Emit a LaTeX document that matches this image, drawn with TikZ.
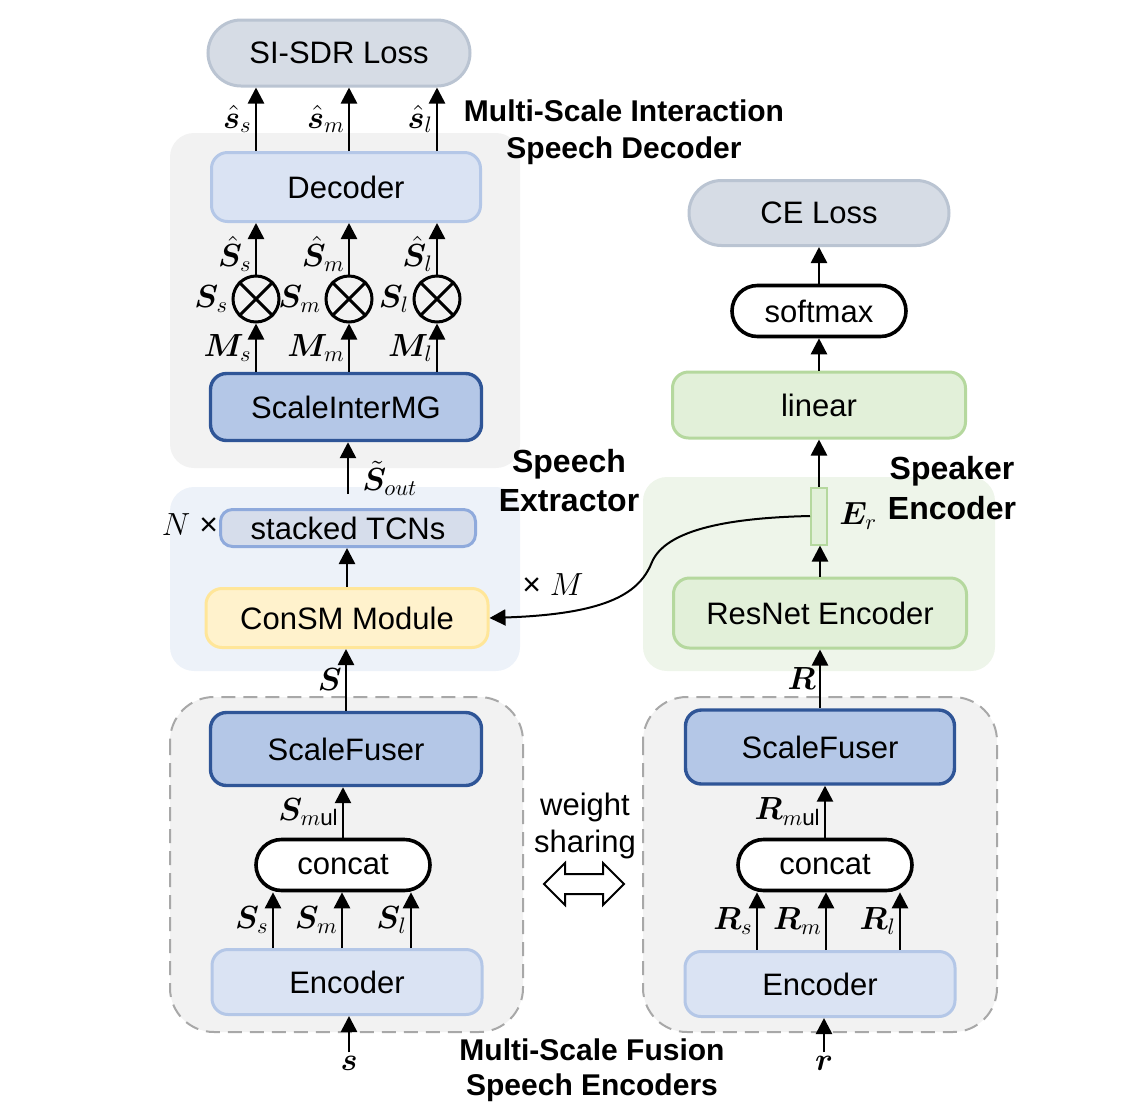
\RequirePackage{fix-cm}
\documentclass[tikz,border=0pt]{standalone}
\usepackage{amsmath}
\usepackage{bm}
\usepackage{fontspec}
\setmainfont{Liberation Sans}
\usetikzlibrary{arrows.meta,shapes.misc,positioning,calc}

\definecolor{lossfill}{HTML}{D6DCE5}
\definecolor{lossedge}{HTML}{BAC4D2}
\definecolor{paleblue}{HTML}{DAE3F3}
\definecolor{paleedge}{HTML}{B4C7E7}
\definecolor{midblue}{HTML}{B4C7E7}
\definecolor{darkedge}{HTML}{2F5597}
\definecolor{tcnfill}{HTML}{D6DDEB}
\definecolor{tcnedge}{HTML}{8FAADC}
\definecolor{consmfill}{HTML}{FFF2CC}
\definecolor{consmedge}{HTML}{FFE699}
\definecolor{greenfill}{HTML}{E2F0D9}
\definecolor{greenedge}{HTML}{B5D89E}
\definecolor{panelgray}{HTML}{F2F2F2}
\definecolor{panelblue}{HTML}{EDF2F9}
\definecolor{panelgreen}{HTML}{EEF5EA}
\definecolor{dashgray}{HTML}{A8A8A8}

\begin{document}
\begin{tikzpicture}[x=0.5pt,y=-0.5pt,
  every node/.style={font=\fontsize{15.5}{18}\selectfont},
  box/.style={draw, rounded corners=8pt, line width=1.5pt, inner sep=0pt},
  pale/.style={box, fill=paleblue, draw=paleedge},
  deep/.style={box, fill=midblue, draw=darkedge, line width=1.7pt},
  tcnbox/.style={box, fill=tcnfill, draw=tcnedge, rounded corners=6pt},
  consmbox/.style={box, fill=consmfill, draw=consmedge},
  greenbox/.style={box, fill=greenfill, draw=greenedge},
  embbox/.style={draw=greenedge, fill=greenfill, line width=1pt, inner sep=0pt},
  pill/.style={rounded rectangle, draw, line width=1.8pt, fill=white, inner sep=0pt},
  losspill/.style={rounded rectangle, fill=lossfill, draw=lossedge, line width=1.5pt, inner sep=0pt},
  mult/.style={circle, draw, line width=1.5pt, minimum size=23pt, inner sep=0pt},
  lbl/.style={inner sep=1.5pt, font=\fontsize{16}{18}\selectfont},
  arr/.style={-{Triangle[length=8pt,width=8pt]}, line width=1.3pt},
  head/.style={font=\fontsize{15}{18.5}\selectfont\bfseries, align=center},
  dashpanel/.style={fill=panelgray, draw=dashgray, line width=1pt, dash pattern=on 7pt off 4pt, rounded corners=22pt}
]
\useasboundingbox (0,0) rectangle (1132,1115);

% panels
\fill[panelgray, rounded corners=12pt] (170,133) rectangle (520,468);
\fill[panelblue, rounded corners=12pt] (170,487) rectangle (520,671);
\fill[panelgreen, rounded corners=12pt] (643,477) rectangle (995,671);
\draw[dashpanel] (170,697) rectangle (523,1032);
\draw[dashpanel] (643,697) rectangle (997,1032);

% speech side
\node[losspill, minimum width=131pt, minimum height=33pt] (sdr) at (339,53) {SI-SDR Loss};
\node[pale, minimum width=134.5pt, minimum height=34.5pt] (dec) at (346,187) {Decoder};
\node[mult] (mulS) at (256,299) {};
\node[mult] (mulM) at (349,299) {};
\node[mult] (mulL) at (437,299) {};
\node[deep, minimum width=135.5pt, minimum height=33.5pt] (mg) at (346,407) {ScaleInterMG};
\node[tcnbox, minimum width=127.5pt, minimum height=18.5pt] (tcn) at (348,528) {stacked TCNs};
\node[lbl] (rep) at (190,525) {$N$ ×};
\node[consmbox, minimum width=141pt, minimum height=29.5pt] (consm) at (347,618) {ConSM Module};
\node[lbl] (repM) at (553,585) {× $M$};
\node[deep, minimum width=135.5pt, minimum height=36.5pt] (fuseL) at (346,749) {ScaleFuser};
\node[pill, minimum width=87pt, minimum height=25.5pt] (catL) at (343,865) {concat};
\node[pale, minimum width=135pt, minimum height=32.5pt] (encL) at (347,982) {Encoder};
\node[lbl] (inS) at (349,1063) {$\bm{s}$};

% speaker side
\node[losspill, minimum width=130pt, minimum height=32.5pt] (ce) at (819,213) {CE Loss};
\node[pill, minimum width=87pt, minimum height=25.5pt] (soft) at (819,311) {softmax};
\node[greenbox, minimum width=146.5pt, minimum height=33pt] (lin) at (819,405) {linear};
\node[embbox, minimum width=8pt, minimum height=28.5pt] (emb) at (819,516) {};
\node[lbl, right=4pt of emb] (embL) {$\bm{E}_r$};
\node[greenbox, minimum width=146.5pt, minimum height=35pt] (res) at (820,613) {ResNet Encoder};
\node[deep, minimum width=134.5pt, minimum height=37pt] (fuseR) at (820,747) {ScaleFuser};
\node[pill, minimum width=87pt, minimum height=25.5pt] (catR) at (825,865) {concat};
\node[pale, minimum width=135pt, minimum height=32.5pt] (encR) at (820,984) {Encoder};
\node[lbl] (inR) at (824,1063) {$\bm{r}$};

% headings
\node[head] (hDec) at (624,132) {Multi-Scale Interaction\\Speech Decoder};
\node[head, font=\fontsize{16}{19.5}\selectfont\bfseries] (hExt) at (569,481) {Speech\\Extractor};
\node[head, font=\fontsize{16}{20}\selectfont\bfseries] (hSpk) at (952,488) {Speaker\\Encoder};
\node[head, font=\fontsize{15}{17.5}\selectfont\bfseries] (hEnc) at (592,1070) {Multi-Scale Fusion\\Speech Encoders};
\node[align=center, font=\fontsize{15.5}{18.5}\selectfont] (share) at (585,826) {weight\\sharing};
\coordinate (ws) at (584,884);
\draw[line width=1pt, fill=white] ($(ws)+(-40,0)$) -- ++(21,-21) -- ++(0,11) -- ++(38,0) -- ++(0,-11)
  -- ++(21,21) -- ++(-21,21) -- ++(0,-11) -- ++(-38,0) -- ++(0,11) -- cycle;

% multiply signs
\foreach \m in {mulS,mulM,mulL}
  \draw[line width=1.5pt] (\m.north west) -- (\m.south east) (\m.north east) -- (\m.south west);
\node[lbl, left=0pt of mulS] (lSs) {$\bm{S}_s$};
\node[lbl, left=0pt of mulM] (lSm) {$\bm{S}_m$};
\node[lbl, left=0pt of mulL] (lSl) {$\bm{S}_l$};

% decoder connectors
\draw[arr] (mulS |- dec.north) -- node[lbl, left] (oS) {$\hat{\bm{s}}_s$} (mulS |- sdr.south);
\draw[arr] (mulM |- dec.north) -- node[lbl, left] (oM) {$\hat{\bm{s}}_m$} (mulM |- sdr.south);
\draw[arr] (mulL |- dec.north) -- node[lbl, left] (oL) {$\hat{\bm{s}}_l$} (mulL |- sdr.south);
\draw[arr] (mulS.north) -- node[lbl, left, pos=0.4] (hS) {$\hat{\bm{S}}_s$} (mulS |- dec.south);
\draw[arr] (mulM.north) -- node[lbl, left, pos=0.4] (hM) {$\hat{\bm{S}}_m$} (mulM |- dec.south);
\draw[arr] (mulL.north) -- node[lbl, left, pos=0.4] (hL) {$\hat{\bm{S}}_l$} (mulL |- dec.south);
\draw[arr] (mulS |- mg.north) -- node[lbl, left] (mS) {$\bm{M}_s$} (mulS.south);
\draw[arr] (mulM |- mg.north) -- node[lbl, left] (mM) {$\bm{M}_m$} (mulM.south);
\draw[arr] (mulL |- mg.north) -- node[lbl, left] (mL) {$\bm{M}_l$} (mulL.south);

% extractor connectors
\draw[arr, shorten <=7pt] (tcn.north) -- node[lbl, right=5pt, pos=0.45] (sOut) {$\tilde{\bm{S}}_{out}$} (tcn.north |- mg.south);
\draw[arr] (consm.north) -- (consm.north |- tcn.south);
\draw[arr] (fuseL.north) -- node[lbl, left] (lS) {$\bm{S}$} (fuseL.north |- consm.south);
\draw[arr, line width=1pt] (emb.west) .. controls (720,518) and (665,532) .. (652,562)
  .. controls (640,592) and (610,614) .. (consm.east);

% speech encoder connectors
\coordinate (cLs) at (273,0);
\coordinate (cLm) at (342,0);
\coordinate (cLl) at (411,0);
\draw[arr] (catL.north) -- node[lbl, left] (lSmul) {$\bm{S}_{m\mathrm{ul}}$} (catL.north |- fuseL.south);
\draw[arr] (cLs |- encL.north) -- node[lbl, left] (eSs) {$\bm{S}_s$} (cLs |- catL.south);
\draw[arr] (cLm |- encL.north) -- node[lbl, left] (eSm) {$\bm{S}_m$} (cLm |- catL.south);
\draw[arr] (cLl |- encL.north) -- node[lbl, left] (eSl) {$\bm{S}_l$} (cLl |- catL.south);
\draw[arr] (inS.north) -- (inS.north |- encL.south);

% speaker connectors
\draw[arr] (lin.north) -- (lin.north |- soft.south);
\draw[arr] (soft.north) -- (soft.north |- ce.south);
\draw[arr] (emb.north) -- (emb.north |- lin.south);
\draw[arr] (res.north) -- (res.north |- emb.south);
\draw[arr] (fuseR.north) -- node[lbl, left] (lR) {$\bm{R}$} (fuseR.north |- res.south);
\coordinate (cRs) at (757,0);
\coordinate (cRm) at (826,0);
\coordinate (cRl) at (900,0);
\draw[arr] (catR.north) -- node[lbl, left] (lRmul) {$\bm{R}_{m\mathrm{ul}}$} (catR.north |- fuseR.south);
\draw[arr] (cRs |- encR.north) -- node[lbl, left] (eRs) {$\bm{R}_s$} (cRs |- catR.south);
\draw[arr] (cRm |- encR.north) -- node[lbl, left] (eRm) {$\bm{R}_m$} (cRm |- catR.south);
\draw[arr] (cRl |- encR.north) -- node[lbl, left] (eRl) {$\bm{R}_l$} (cRl |- catR.south);
\draw[arr] (inR.north) -- (inR.north |- encR.south);
\end{tikzpicture}
\end{document}
